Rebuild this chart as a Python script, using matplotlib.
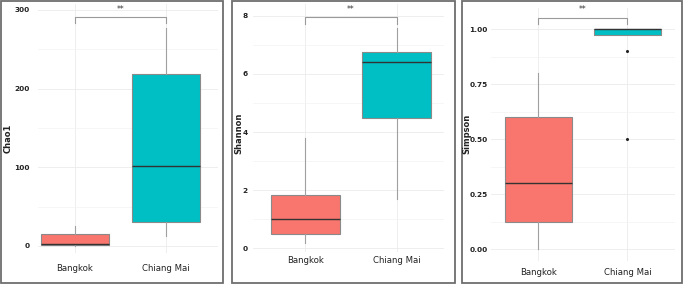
import matplotlib
matplotlib.use("Agg")
import matplotlib.pyplot as plt
from matplotlib.patches import Rectangle

# Data (box stats per site)
groups = ["Bangkok", "Chiang Mai"]
colors = ["#F8766D", "#00BFC4"]

chao1_whislo = [0, 13]
chao1_q1 = [1, 30]
chao1_med = [3, 101]
chao1_q3 = [15, 218]
chao1_whishi = [26, 277]

shannon_whislo = [0.19, 1.69]
shannon_q1 = [0.48, 4.5]
shannon_med = [1.0, 6.4]
shannon_q3 = [1.83, 6.77]
shannon_whishi = [3.81, 7.57]

simpson_whislo = [0.0, 0.973]
simpson_q1 = [0.125, 0.973]
simpson_med = [0.303, 1.0]
simpson_q3 = [0.60, 1.003]
simpson_whishi = [0.803, 1.003]
simpson_fliers = [[], [0.9, 0.5]]

W, H = 685, 285
fig = plt.figure(figsize=(W / 100, H / 100), dpi=100)


def px_axes(left, top, right, bottom):
    return fig.add_axes([left / W, 1 - bottom / H, (right - left) / W, (bottom - top) / H])


def frame(x0, y0, x1, y1):
    fig.add_artist(Rectangle((x0 / W, 1 - y1 / H), (x1 - x0) / W, (y1 - y0) / H,
                             transform=fig.transFigure, fill=False,
                             edgecolor="#6e6e6e", linewidth=1.3))


def panel(ax, whislo, q1, med, q3, whishi, fliers, ylabel, yticks, ylabels,
          ylim, xlim, bracket, label_xy, ypad, xpad):
    stats = []
    for i in range(2):
        stats.append(dict(whislo=whislo[i], q1=q1[i], med=med[i], q3=q3[i],
                          whishi=whishi[i], fliers=fliers[i]))
    bp = ax.bxp(stats, positions=[1, 2], widths=0.75, patch_artist=True,
                showcaps=False,
                medianprops=dict(color="#333333", linewidth=1.0),
                whiskerprops=dict(color="#a0a0a0", linewidth=0.8),
                flierprops=dict(marker="o", markersize=1.2, markerfacecolor="#222222",
                                markeredgecolor="#222222"))
    for patch, c in zip(bp["boxes"], colors):
        patch.set_facecolor(c)
        patch.set_edgecolor("#8a8a8a")
        patch.set_linewidth(0.8)
    ax.set_xlim(*xlim)
    ax.set_ylim(*ylim)
    ax.set_yticks(yticks)
    ax.set_yticklabels(ylabels, fontsize=5.3, fontweight="bold", color="#222222")
    minor = [(yticks[i] + yticks[i + 1]) / 2 for i in range(len(yticks) - 1)]
    ax.set_yticks(minor, minor=True)
    ax.set_xticks([1, 2])
    ax.set_xticklabels(groups, fontsize=6.8, family="DejaVu Sans",
                       fontstretch="condensed", color="#222222")
    ax.tick_params(axis="x", length=0, pad=xpad)
    ax.tick_params(axis="y", which="both", length=0, pad=ypad)
    ax.grid(True, which="major", color="#ebebeb", linewidth=0.6)
    ax.grid(True, which="minor", axis="y", color="#f3f3f3", linewidth=0.5)
    ax.set_axisbelow(True)
    for s in ax.spines.values():
        s.set_visible(False)
    fig.text(label_xy[0] / W, 1 - label_xy[1] / H, ylabel, rotation=90,
             ha="center", va="center", fontsize=6, fontweight="bold", color="#222222")
    ybar, ytick, ystar = bracket
    ax.plot([1, 1, 2, 2], [ytick, ybar, ybar, ytick], color="#9a9a9a", linewidth=0.8)
    ax.text(1.5, ystar, "**", ha="center", va="center", fontsize=5.5, color="#333333")


frame(0.7, 0.7, 223, 283)
frame(231.5, 0.5, 455, 283)
frame(461.7, 0.7, 682, 283)

ax1 = px_axes(38, 4, 218, 253)
panel(ax1, chao1_whislo, chao1_q1, chao1_med, chao1_q3, chao1_whishi, [[], []],
      "Chao1", [0, 100, 200, 300], ["0", "100", "200", "300"],
      ylim=(-8.9, 307.4), xlim=(0.593, 2.571), bracket=(291, 283.5, 300.5),
      label_xy=(8, 138), ypad=6, xpad=8)

ax2 = px_axes(253, 4, 444, 252)
panel(ax2, shannon_whislo, shannon_q1, shannon_med, shannon_q3, shannon_whishi, [[], []],
      "Shannon", [0, 2, 4, 6, 8], ["0", "2", "4", "6", "8"],
      ylim=(-0.13, 8.41), xlim=(0.425, 2.52), bracket=(7.95, 7.72, 8.22),
      label_xy=(238.5, 133), ypad=4, xpad=3)

ax3 = px_axes(491, 8, 675, 261)
panel(ax3, simpson_whislo, simpson_q1, simpson_med, simpson_q3, simpson_whishi, simpson_fliers,
      "Simpson", [0, 0.25, 0.5, 0.75, 1.0], ["0.00", "0.25", "0.50", "0.75", "1.00"],
      ylim=(-0.0532, 1.0968), xlim=(0.47, 2.535), bracket=(1.05, 1.023, 1.09),
      label_xy=(466.5, 134), ypad=2.4, xpad=4.8)

fig.savefig("out.png", dpi=100)
